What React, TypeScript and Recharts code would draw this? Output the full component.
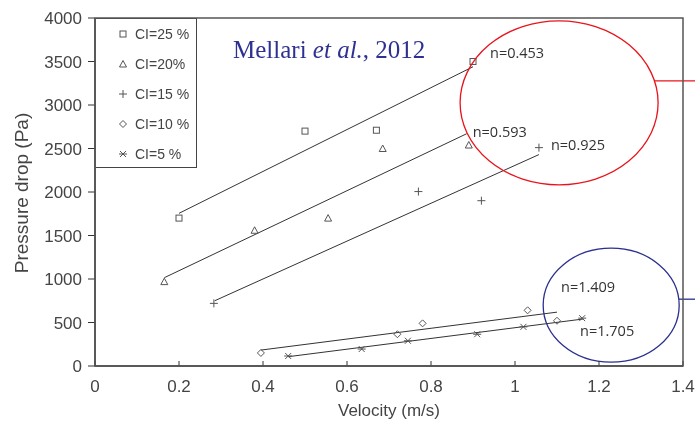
import React from "react";
import {
  ScatterChart,
  Scatter,
  XAxis,
  YAxis,
  ReferenceLine,
  ReferenceDot,
  Legend,
} from "recharts";

// measured points, velocity (m/s) vs pressure drop (Pa)
const ci25 = [
  { x: 0.2, y: 1700 },
  { x: 0.5, y: 2700 },
  { x: 0.67, y: 2710 },
  { x: 0.9, y: 3500 },
];
const ci20 = [
  { x: 0.165, y: 970 },
  { x: 0.38, y: 1560 },
  { x: 0.555, y: 1700 },
  { x: 0.685, y: 2500 },
  { x: 0.89, y: 2540 },
];
const ci15 = [
  { x: 0.283, y: 720 },
  { x: 0.77, y: 2005 },
  { x: 0.92, y: 1900 },
  { x: 1.057, y: 2510 },
];
const ci10 = [
  { x: 0.395, y: 150 },
  { x: 0.72, y: 365 },
  { x: 0.78, y: 490 },
  { x: 1.03, y: 640 },
  { x: 1.1, y: 520 },
];
const ci5 = [
  { x: 0.46, y: 115 },
  { x: 0.635, y: 195 },
  { x: 0.745, y: 290 },
  { x: 0.91, y: 365 },
  { x: 1.02, y: 450 },
  { x: 1.16, y: 550 },
];

// power-law fit lines (start / end)
const fit25 = [{ x: 0.2, y: 1755 }, { x: 0.9, y: 3440 }];
const fit20 = [{ x: 0.165, y: 1015 }, { x: 0.885, y: 2670 }];
const fit15 = [{ x: 0.285, y: 750 }, { x: 1.057, y: 2430 }];
const fit10 = [{ x: 0.395, y: 183 }, { x: 1.1, y: 619 }];
const fit5 = [{ x: 0.46, y: 107 }, { x: 1.162, y: 540 }];

const seriesNames = ["CI=25 %", "CI=20%", "CI=15 %", "CI=10 %", "CI=5 %"];
const nValues = ["n=0.453", "n=0.593", "n=0.925", "n=1.409", "n=1.705"];

const xTicks = [0, 0.2, 0.4, 0.6, 0.8, 1, 1.2, 1.4];
const yTicks = [0, 500, 1000, 1500, 2000, 2500, 3000, 3500, 4000];

// circled regions (centre in data units)
const redCircle = { x: 1.105, y: 3025 };
const blueCircle = { x: 1.229, y: 699 };

const W = 687;
const H = 415;
const MARGIN = { top: 10, right: 12, left: 0, bottom: 0 };
const Y_AXIS_W = 87;
const X_AXIS_H = 57;
const INK = "#555";
const SANS = "'Liberation Sans', Arial, sans-serif";

type MarkerKind = "square" | "triangle" | "plus" | "diamond" | "star";
const kinds: MarkerKind[] = ["square", "triangle", "plus", "diamond", "star"];

function Marker({ kind, cx, cy }: { kind: MarkerKind; cx: number; cy: number }) {
  const p = { stroke: INK, strokeWidth: 1, fill: "none" };
  if (kind === "square") return <rect x={cx - 3} y={cy - 3} width={6} height={6} {...p} />;
  if (kind === "triangle")
    return <polygon points={`${cx},${cy - 3.5} ${cx - 3.5},${cy + 3} ${cx + 3.5},${cy + 3}`} {...p} />;
  if (kind === "plus")
    return (
      <g {...p}>
        <line x1={cx - 4} y1={cy} x2={cx + 4} y2={cy} />
        <line x1={cx} y1={cy - 4} x2={cx} y2={cy + 4} />
      </g>
    );
  if (kind === "diamond")
    return <polygon points={`${cx},${cy - 3.5} ${cx + 3.5},${cy} ${cx},${cy + 3.5} ${cx - 3.5},${cy}`} {...p} />;
  return (
    <g {...p}>
      <line x1={cx - 3} y1={cy - 3} x2={cx + 3} y2={cy + 3} />
      <line x1={cx - 3} y1={cy + 3} x2={cx + 3} y2={cy - 3} />
      <line x1={cx - 4} y1={cy} x2={cx + 4} y2={cy} />
    </g>
  );
}

const markerShape = (kind: MarkerKind) => (props: any) =>
  <Marker kind={kind} cx={props.cx} cy={props.cy} />;

function LegendBox() {
  return (
    <div
      style={{
        width: 101,
        height: 150,
        boxSizing: "border-box",
        border: "1.5px solid #444",
        borderLeft: "none",
        background: "#fff",
        position: "relative",
        fontFamily: SANS,
        fontSize: 14,
        color: "#444",
      }}
    >
      {seriesNames.map((name, i) => (
        <div key={name} style={{ position: "absolute", left: 0, top: i * 30 + 15 - 9, height: 18, width: 99 }}>
          <svg width={14} height={14} style={{ position: "absolute", left: 20, top: 2 }}>
            <Marker kind={kinds[i]} cx={7} cy={7} />
          </svg>
          <span style={{ position: "absolute", left: 39, top: 0, lineHeight: "18px", whiteSpace: "nowrap" }}>
            {name}
          </span>
        </div>
      ))}
    </div>
  );
}

const XTick = (props: any) => {
  const { x, y, payload } = props;
  return (
    <g>
      <line x1={x} y1={y} x2={x} y2={y - 5} stroke="#333" strokeWidth={1} />
      <text x={x} y={y + 26} textAnchor="middle" fontFamily={SANS} fontSize={17} fill="#444">
        {payload.value}
      </text>
    </g>
  );
};

const YTitle = (props: any) => {
  const vb = props.viewBox || { x: 0, y: 10, width: 87, height: 348 };
  const cy = vb.y + vb.height / 2 + 1;
  return (
    <text
      x={13}
      y={cy}
      transform={`rotate(-90, 13, ${cy})`}
      textAnchor="middle"
      dominantBaseline="central"
      fontFamily={SANS}
      fontSize={19}
      fill="#444"
    >
      Pressure drop (Pa)
    </text>
  );
};

const nLabel = (text: string, dx: number, dy: number) => (props: any) =>
  (
    <text
      x={props.cx + dx}
      y={props.cy + dy}
      dominantBaseline="central"
      fontFamily="'Open Sans', sans-serif"
      fontSize={14.5}
      fill="#333"
    >
      {text}
    </text>
  );

const circleShape = (color: string, rx: number, ry: number, lineDy: number) => (props: any) => {
  const { cx, cy } = props;
  const lx = cx + rx * Math.sqrt(1 - (lineDy * lineDy) / (ry * ry));
  return (
    <g>
      <ellipse cx={cx} cy={cy} rx={rx} ry={ry} fill="none" stroke={color} strokeWidth={1.3} />
      <line x1={lx} y1={cy + lineDy} x2={W} y2={cy + lineDy} stroke={color} strokeWidth={1.3} />
    </g>
  );
};

export default function App() {
  const fits = [fit25, fit20, fit15, fit10, fit5];
  const series = [ci25, ci20, ci15, ci10, ci5];
  // label offsets from the end of each fit line, in px
  const labelOffsets = [
    [17, -14],
    [6, -2],
    [12, -10],
    [4, -26],
    [-3, 11],
  ];
  // plot box, derived from the chart margins and axis sizes
  const plotX = MARGIN.left + Y_AXIS_W;
  const plotY = MARGIN.top;
  const plotW = W - MARGIN.right - plotX;
  const plotH = H - MARGIN.bottom - X_AXIS_H - plotY;

  return (
    <div style={{ position: "fixed", left: 8, top: 8, width: W, height: H }}>
      <ScatterChart width={W} height={H} margin={MARGIN}>
        <XAxis
          type="number"
          dataKey="x"
          domain={[0, 1.4]}
          ticks={xTicks}
          interval={0}
          height={X_AXIS_H}
          tickSize={0}
          tickMargin={0}
          tickLine={false}
          tick={<XTick />}
          axisLine={{ stroke: "#333", strokeWidth: 1.5 }}
        />
        <YAxis
          type="number"
          dataKey="y"
          domain={[0, 4000]}
          ticks={yTicks}
          interval={0}
          width={Y_AXIS_W}
          tickSize={7}
          tickMargin={6}
          tickLine={{ stroke: "#333" }}
          tick={{ fontFamily: SANS, fontSize: 17, fill: "#444" }}
          axisLine={{ stroke: "#333", strokeWidth: 1.5 }}
          label={{ content: <YTitle /> } as any}
        />
        {fits.map((seg, i) => (
          <ReferenceLine
            key={`fit-${i}`}
            segment={seg}
            stroke="#333"
            strokeWidth={1}
            ifOverflow="visible"
          />
        ))}
        {series.map((data, i) => (
          <Scatter
            key={seriesNames[i]}
            name={seriesNames[i]}
            data={data}
            fill={INK}
            shape={markerShape(kinds[i])}
            isAnimationActive={false}
          />
        ))}
        {fits.map((seg, i) => (
          <ReferenceDot
            key={`n-${i}`}
            x={seg[1].x}
            y={seg[1].y}
            r={0}
            ifOverflow="visible"
            shape={nLabel(nValues[i], labelOffsets[i][0], labelOffsets[i][1])}
          />
        ))}
        <ReferenceDot
          x={redCircle.x}
          y={redCircle.y}
          r={0}
          ifOverflow="visible"
          shape={circleShape("#e8141b", 99, 82, -22)}
        />
        <ReferenceDot
          x={blueCircle.x}
          y={blueCircle.y}
          r={0}
          ifOverflow="visible"
          shape={circleShape("#2b2f8f", 68, 57, -6)}
        />
        <Legend
          layout="vertical"
          align="center"
          verticalAlign="middle"
          content={() => <LegendBox />}
          wrapperStyle={{ left: 88, top: 10, width: 101, height: 150, margin: 0 }}
        />
      </ScatterChart>
      <svg width={W} height={H} style={{ position: "absolute", left: 0, top: 0, pointerEvents: "none" }}>
        <rect x={plotX} y={plotY} width={plotW} height={plotH} fill="none" stroke="#555" strokeWidth={1.5} />
        <text x={225} y={50} fontFamily="'Liberation Serif', 'Times New Roman', serif" fontSize={25} fill="#2e3192">
          Mellari <tspan fontStyle="italic">et al.</tspan>, 2012
        </text>
        <text x={381} y={408} textAnchor="middle" fontFamily={SANS} fontSize={17} fill="#444">
          Velocity (m/s)
        </text>
      </svg>
    </div>
  );
}
